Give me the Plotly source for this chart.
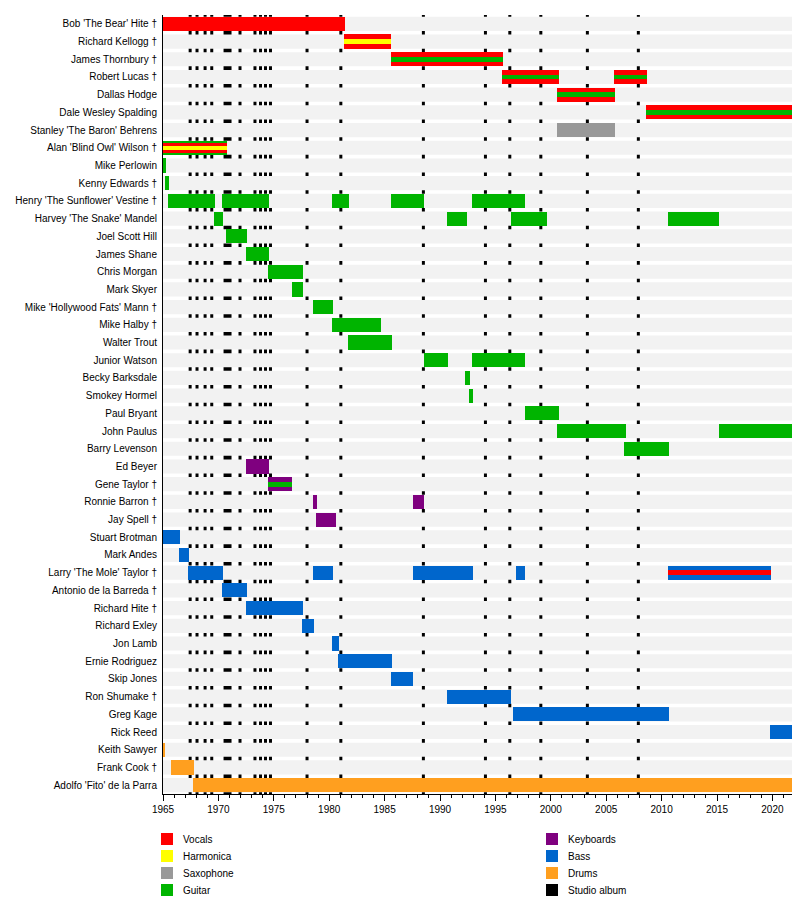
import plotly.graph_objects as go

members = ["Bob 'The Bear' Hite †","Richard Kellogg †","James Thornbury †","Robert Lucas †","Dallas Hodge",
"Dale Wesley Spalding","Stanley 'The Baron' Behrens","Alan 'Blind Owl' Wilson †","Mike Perlowin","Kenny Edwards †",
"Henry 'The Sunflower' Vestine †","Harvey 'The Snake' Mandel","Joel Scott Hill","James Shane","Chris Morgan",
"Mark Skyer","Mike 'Hollywood Fats' Mann †","Mike Halby †","Walter Trout","Junior Watson","Becky Barksdale",
"Smokey Hormel","Paul Bryant","John Paulus","Barry Levenson","Ed Beyer","Gene Taylor †","Ronnie Barron †",
"Jay Spell †","Stuart Brotman","Mark Andes","Larry 'The Mole' Taylor †","Antonio de la Barreda †","Richard Hite †",
"Richard Exley","Jon Lamb","Ernie Rodriguez","Skip Jones","Ron Shumake †","Greg Kage","Rick Reed","Keith Sawyer",
"Frank Cook †","Adolfo 'Fito' de la Parra"]

END = 2022.4
# (member, start, end, main role, [stripe roles])
spans = [
("Bob 'The Bear' Hite †",1965,1981.4,"Vocals",[]),
("Richard Kellogg †",1981.3,1985.6,"Vocals",["Harmonica"]),
("James Thornbury †",1985.6,1995.7,"Vocals",["Guitar"]),
("Robert Lucas †",1995.6,2000.7,"Vocals",["Guitar"]),
("Robert Lucas †",2005.7,2008.7,"Vocals",["Guitar"]),
("Dallas Hodge",2000.6,2005.8,"Vocals",["Guitar"]),
("Dale Wesley Spalding",2008.6,END,"Vocals",["Guitar"]),
("Stanley 'The Baron' Behrens",2000.6,2005.8,"Saxophone",[]),
("Alan 'Blind Owl' Wilson †",1965,1970.75,"Guitar",["Vocals","Harmonica"]),
("Mike Perlowin",1965,1965.3,"Guitar",[]),
("Kenny Edwards †",1965.2,1965.55,"Guitar",[]),
("Henry 'The Sunflower' Vestine †",1965.45,1969.7,"Guitar",[]),
("Henry 'The Sunflower' Vestine †",1970.3,1974.55,"Guitar",[]),
("Henry 'The Sunflower' Vestine †",1980.25,1981.8,"Guitar",[]),
("Henry 'The Sunflower' Vestine †",1985.55,1988.6,"Guitar",[]),
("Henry 'The Sunflower' Vestine †",1992.85,1997.7,"Guitar",[]),
("Harvey 'The Snake' Mandel",1969.6,1970.4,"Guitar",[]),
("Harvey 'The Snake' Mandel",1990.6,1992.4,"Guitar",[]),
("Harvey 'The Snake' Mandel",1996.4,1999.7,"Guitar",[]),
("Harvey 'The Snake' Mandel",2010.6,2015.2,"Guitar",[]),
("Joel Scott Hill",1970.7,1972.6,"Guitar",[]),
("James Shane",1972.5,1974.55,"Guitar",[]),
("Chris Morgan",1974.5,1977.6,"Guitar",[]),
("Mark Skyer",1976.6,1977.6,"Guitar",[]),
("Mike 'Hollywood Fats' Mann †",1978.5,1980.3,"Guitar",[]),
("Mike Halby †",1980.25,1984.65,"Guitar",[]),
("Walter Trout",1981.7,1985.65,"Guitar",[]),
("Junior Watson",1988.55,1990.7,"Guitar",[]),
("Junior Watson",1992.85,1997.7,"Guitar",[]),
("Becky Barksdale",1992.3,1992.7,"Guitar",[]),
("Smokey Hormel",1992.6,1993.0,"Guitar",[]),
("Paul Bryant",1997.65,2000.7,"Guitar",[]),
("John Paulus",2000.6,2006.75,"Guitar",[]),
("John Paulus",2015.15,END,"Guitar",[]),
("Barry Levenson",2006.65,2010.7,"Guitar",[]),
("Ed Beyer",1972.5,1974.55,"Keyboards",[]),
("Gene Taylor †",1974.5,1976.65,"Keyboards",["Guitar"]),
("Ronnie Barron †",1978.5,1978.9,"Keyboards",[]),
("Ronnie Barron †",1987.55,1988.6,"Keyboards",[]),
("Jay Spell †",1978.8,1980.6,"Keyboards",[]),
("Stuart Brotman",1965,1966.55,"Bass",[]),
("Mark Andes",1966.45,1967.35,"Bass",[]),
("Larry 'The Mole' Taylor †",1967.25,1970.4,"Bass",[]),
("Larry 'The Mole' Taylor †",1978.5,1980.3,"Bass",[]),
("Larry 'The Mole' Taylor †",1987.55,1993.0,"Bass",[]),
("Larry 'The Mole' Taylor †",1996.85,1997.7,"Bass",[]),
("Larry 'The Mole' Taylor †",2010.6,2019.9,"Bass",["Vocals"]),
("Antonio de la Barreda †",1970.3,1972.6,"Bass",[]),
("Richard Hite †",1972.5,1977.6,"Bass",[]),
("Richard Exley",1977.55,1978.6,"Bass",[]),
("Jon Lamb",1980.25,1980.9,"Bass",[]),
("Ernie Rodriguez",1980.8,1985.65,"Bass",[]),
("Skip Jones",1985.55,1987.6,"Bass",[]),
("Ron Shumake †",1990.6,1996.4,"Bass",[]),
("Greg Kage",1996.55,2010.7,"Bass",[]),
("Rick Reed",2019.8,END,"Bass",[]),
("Keith Sawyer",1965,1965.2,"Drums",[]),
("Frank Cook †",1965.7,1967.8,"Drums",[]),
("Adolfo 'Fito' de la Parra",1967.7,END,"Drums",[]),
]

albums = [1967.45,1968.07,1968.8,1969.4,1970.6,1970.75,1970.9,1971.05,1971.95,1973.3,1973.8,1974.25,
          1974.7,1978.0,1981.05,1988.5,1994.1,1996.3,1999.1,2003.3,2007.9]

colors = {"Vocals":"#ff0000","Harmonica":"#ffff00","Saxophone":"#999999","Guitar":"#00b400",
          "Keyboards":"#7f007f","Bass":"#0066cc","Drums":"#ff9f1f","Studio album":"#000000"}

idx = {m:i for i,m in enumerate(members)}
fig = go.Figure()
shapes = []
for i in range(len(members)):
    shapes.append(dict(type="rect", xref="x", yref="y", x0=1965, x1=END, y0=i-0.4, y1=i+0.4,
                       fillcolor="#f2f2f2", line_width=0, layer="below"))
for a in albums:
    shapes.append(dict(type="line", xref="x", yref="paper", x0=a, x1=a, y0=0, y1=1,
                       line=dict(color="black", width=3), layer="between"))

for (m, s, e, role, stripes) in spans:
    layers = [(role, 0.8)]
    if len(stripes) == 1:
        layers.append((stripes[0], 0.27))
    elif len(stripes) == 2:
        layers.append((stripes[0], 0.55)); layers.append((stripes[1], 0.22))
    for r, w in layers:
        fig.add_trace(go.Bar(y=[idx[m]], x=[e - s], base=[s], orientation="h", width=w,
                             marker=dict(color=colors[r], line_width=0), showlegend=False,
                             hoverinfo="skip"))

leg_left = ["Vocals","Harmonica","Saxophone","Guitar"]
leg_right = ["Keyboards","Bass","Drums","Studio album"]
annots = []
def px2paper(px, py):
    return (px-155)/636, (786-py)/779
for items, sx in ((leg_left, 153), (leg_right, 538)):
    for k, name in enumerate(items):
        py = 831 + k*17
        x0, y0 = px2paper(sx, py+6)
        x1, y1 = px2paper(sx+12, py-6)
        shapes.append(dict(type="rect", xref="paper", yref="paper", x0=x0, x1=x1, y0=y0, y1=y1,
                           fillcolor=colors[name], line_width=0))
        tx, ty = px2paper(sx+20, py)
        annots.append(dict(x=tx, y=ty, xref="paper", yref="paper", text=name, showarrow=False,
                           xanchor="left", yanchor="middle", font=dict(size=10, color="#000")))

fig.update_layout(
    width=800, height=902, barmode="overlay", plot_bgcolor="white", paper_bgcolor="white",
    margin=dict(l=155, r=9, t=7, b=116, autoexpand=False),
    font=dict(family="Liberation Sans, Arial, sans-serif", size=10, color="#000"),
    shapes=shapes, annotations=annots, showlegend=False, bargap=0,
    xaxis=dict(range=[1965, END], tickvals=list(range(1965, 2021, 5)), showgrid=False, zeroline=False,
               ticks="outside", ticklen=6, tickcolor="black", showline=True, linecolor="black",
               automargin=False,
               minor=dict(tickvals=list(range(1965, 2023)), ticks="outside", ticklen=3, tickcolor="black")),
    yaxis=dict(range=[len(members)-0.5, -0.5], tickvals=list(range(len(members))), ticktext=members,
               showgrid=False, zeroline=False, ticks="", showline=True, linecolor="black",
               automargin=False, ticklabelstandoff=3),
)
fig.write_html("out.html")
